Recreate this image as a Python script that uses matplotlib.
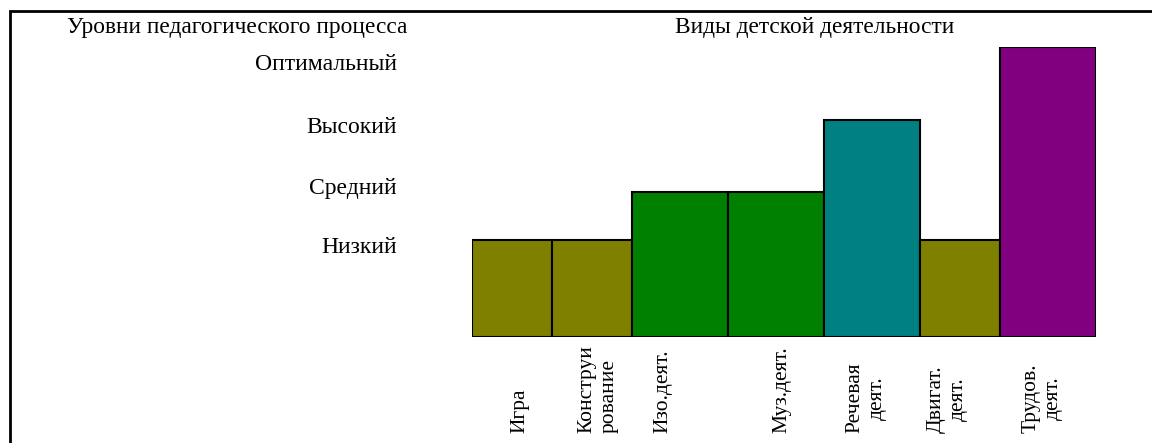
import numpy as np
import matplotlib.pyplot as plt
from matplotlib.patches import Rectangle

plt.rcParams['font.family'] = ['Liberation Serif', 'DejaVu Serif']

# виды деятельности и уровни
activities = ["Игра", "Конструи\nрование", "Изо.деят.", "Муз.деят.",
              "Речевая\nдеят.", "Двигат.\nдеят.", "Трудов.\nдеят."]
values = [2, 2, 3, 3, 4.5, 2, 6]
widths = [80, 80, 96, 96, 96, 80, 96]
colors = ["#808000", "#808000", "#008000", "#008000",
          "#008080", "#808000", "#800080"]
levels = ["Низкий", "Средний", "Высокий", "Оптимальный"]
level_pos = [1.9, 3.12, 4.39, 5.69]

W, H = 1152, 443
fig = plt.figure(figsize=(W / 100, H / 100), dpi=100)

# рамка вокруг рисунка
fig.patches.append(Rectangle((10 / W, -0.05), 1.1, (H - 11) / H + 0.05,
                             transform=fig.transFigure, fill=False,
                             edgecolor="black", linewidth=2))

ax = fig.add_axes([472 / W, (H - 337) / H, sum(widths) / W, 290 / H])
lefts = np.concatenate([[0], np.cumsum(widths)[:-1]])
ax.bar(lefts, values, width=widths, align="edge", color=colors,
       edgecolor="black", linewidth=1.5)
ax.set_xlim(0, sum(widths))
ax.set_ylim(0, 6)
for s in ax.spines.values():
    s.set_visible(False)
ax.set_xticks([])
ax.set_yticks(level_pos, levels, fontsize=17)
ax.tick_params(axis="y", length=0, pad=75 * 0.72)

# подписи под столбцами
label_dx = [8, 6, -17, 6, -6, -13, -6]
y_lab = -(433 - 337) / 290
for x, w, lab, dx in zip(lefts, widths, activities, label_dx):
    ma = "left" if lab.startswith("Конструи") else "center"
    ax.text(x + w / 2 + dx, y_lab, lab, transform=ax.get_xaxis_transform(),
            rotation=90, ha="center", va="bottom", fontsize=15.5,
            multialignment=ma, linespacing=1.25)

fig.text(237 / W, 1 - 27 / H, "Уровни педагогического процесса",
         ha="center", va="center", fontsize=16.8)
fig.text(815 / W, 1 - 27 / H, "Виды детской деятельности",
         ha="center", va="center", fontsize=16.8)

fig.savefig("out.png", dpi=100)
